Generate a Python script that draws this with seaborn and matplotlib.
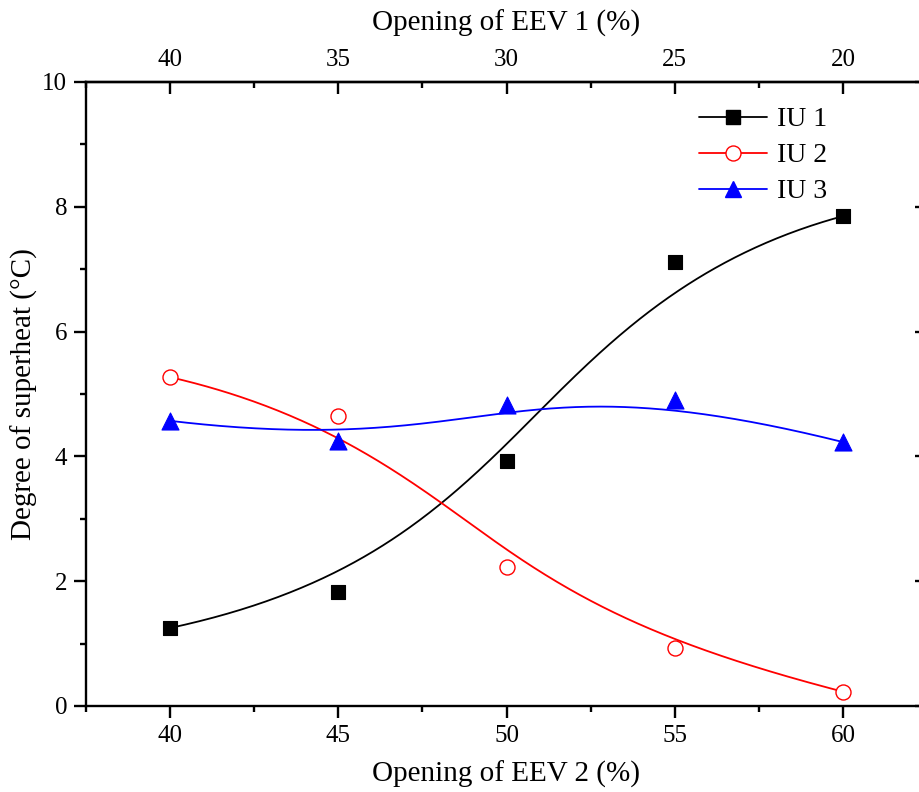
import numpy as np
import pandas as pd
import matplotlib
matplotlib.use("Agg")
import matplotlib.pyplot as plt
from matplotlib.lines import Line2D
from matplotlib.ticker import MultipleLocator, FixedLocator, FixedFormatter
import seaborn as sns

# ---- data ----
eev2_opening = [40, 45, 50, 55, 60]
eev1_labels = ["40", "35", "30", "25", "20"]
iu1 = [1.25, 1.83, 3.92, 7.12, 7.85]
iu2 = [5.27, 4.65, 2.23, 0.93, 0.23]
iu3 = [4.57, 4.25, 4.82, 4.90, 4.23]
series_names = ["IU 1", "IU 2", "IU 3"]
colors = ["#000000", "#FF0000", "#0000FF"]

sns.set_theme(style="ticks")
plt.rcParams['font.family'] = ['Liberation Serif', 'DejaVu Serif']
plt.rcParams['mathtext.fontset'] = 'stix'
plt.rcParams.update({"text.color": "black", "axes.labelcolor": "black",
                     "xtick.color": "black", "ytick.color": "black",
                     "axes.edgecolor": "black"})


def bspline_curve(xs, ys, n=400, degree=3):
    """Clamped uniform B-spline through control points (end points interpolated)."""
    P = np.column_stack([xs, ys]).astype(float)
    m = len(P)
    n_inner = m - degree - 1
    knots = np.concatenate([np.zeros(degree + 1),
                            np.linspace(0, 1, n_inner + 2)[1:-1],
                            np.ones(degree + 1)])
    t = np.linspace(0, 1, n)
    t[-1] = 1 - 1e-12

    def N(i, p):
        if p == 0:
            return ((knots[i] <= t) & (t < knots[i + 1])).astype(float)
        d1 = knots[i + p] - knots[i]
        d2 = knots[i + p + 1] - knots[i + 1]
        a = (t - knots[i]) / d1 * N(i, p - 1) if d1 > 0 else 0.0
        b = (knots[i + p + 1] - t) / d2 * N(i + 1, p - 1) if d2 > 0 else 0.0
        return a + b

    B = np.column_stack([N(i, degree) for i in range(m)])
    C = B @ P
    return C[:, 0], C[:, 1]


frames = []
for name, ys in zip(series_names, [iu1, iu2, iu3]):
    cx, cy = bspline_curve(eev2_opening, ys)
    frames.append(pd.DataFrame({"x": cx, "y": cy, "series": name}))
curve_df = pd.concat(frames, ignore_index=True)

pts_df = pd.DataFrame({
    "x": eev2_opening * 3,
    "y": iu1 + iu2 + iu3,
    "series": np.repeat(series_names, len(eev2_opening)),
})

W, H = 919, 792
fig = plt.figure(figsize=(W / 100, H / 100), dpi=100)
ax_l, ax_r, ax_t, ax_b = 86, 927, 82, 706
ax = fig.add_axes([ax_l / W, 1 - ax_b / H, (ax_r - ax_l) / W, (ax_b - ax_t) / H])

sns.lineplot(data=curve_df, x="x", y="y", hue="series", palette=dict(zip(series_names, colors)),
             sort=False, estimator=None, units="series", legend=False, linewidth=1.3, ax=ax, zorder=2)

marker_styles = {
    "IU 1": dict(marker="s", s=88, color="#000000", edgecolor="#000000", linewidth=0.8),
    "IU 2": dict(marker="o", s=117, color="#FFFFFF", edgecolor="#FF0000", linewidth=1.0),
    "IU 3": dict(marker="^", s=150, color="#0000FF", edgecolor="#0000FF", linewidth=0.8),
}
for name in series_names:
    sub = pts_df[pts_df["series"] == name]
    sns.scatterplot(data=sub, x="x", y="y", ax=ax, zorder=3, legend=False, **marker_styles[name])

ax.set_xlim(37.5, 62.5)
ax.set_ylim(0, 10)
ax.xaxis.set_major_locator(FixedLocator(eev2_opening))
ax.xaxis.set_minor_locator(MultipleLocator(2.5))
ax.yaxis.set_major_locator(MultipleLocator(2))
ax.yaxis.set_minor_locator(MultipleLocator(1))

for sp in ax.spines.values():
    sp.set_visible(True)
    sp.set_linewidth(1.7)
    sp.set_color("black")

tick_fs = 18
ax.tick_params(axis="both", which="major", direction="out", length=8.5, width=1.7,
               labelsize=tick_fs, colors="black", pad=5)
ax.tick_params(axis="both", which="minor", direction="out", length=4.3, width=1.7, colors="black")
ax.tick_params(top=False, right=False)

ax.set_xlabel("Opening of EEV 2 (%)", fontsize=21, labelpad=10, color="black")
ax.set_ylabel("Degree of superheat (°C)", fontsize=21, labelpad=3, color="black")

# top axis
top = ax.secondary_xaxis("top")
top.xaxis.set_major_locator(FixedLocator(eev2_opening))
top.xaxis.set_major_formatter(FixedFormatter(eev1_labels))
top.xaxis.set_minor_locator(MultipleLocator(2.5))
top.tick_params(which="major", direction="in", length=8.5, width=1.7, labelsize=tick_fs, pad=8,
                colors="black")
top.tick_params(which="minor", direction="in", length=4.3, width=1.7, colors="black")
top.set_xlabel("Opening of EEV 1 (%)", fontsize=21, labelpad=13, color="black")
top.spines["top"].set_linewidth(1.7)
top.spines["top"].set_color("black")

# right axis
right = ax.secondary_yaxis("right")
right.yaxis.set_major_locator(MultipleLocator(2))
right.yaxis.set_minor_locator(MultipleLocator(1))
right.tick_params(which="major", direction="in", length=8.5, width=1.7, labelright=False,
                  colors="black")
right.tick_params(which="minor", direction="in", length=4.3, width=1.7, colors="black")
right.spines["right"].set_linewidth(1.7)
right.spines["right"].set_color("black")

handles = [
    Line2D([], [], color="#000000", lw=1.3, marker="s", markersize=9.4, mfc="#000000", mec="#000000"),
    Line2D([], [], color="#FF0000", lw=1.3, marker="o", markersize=10.8, mfc="#FFFFFF", mec="#FF0000"),
    Line2D([], [], color="#0000FF", lw=1.3, marker="^", markersize=12, mfc="#0000FF", mec="#0000FF"),
]
ax.legend(handles, series_names, loc="upper left", bbox_to_anchor=(699 / W, 1 - 107 / H),
          bbox_transform=fig.transFigure, frameon=False, fontsize=20,
          handlelength=2.45, handletextpad=0.35, labelspacing=0.38, borderpad=0,
          borderaxespad=0, labelcolor="black")

fig.savefig("out.png", dpi=100)
